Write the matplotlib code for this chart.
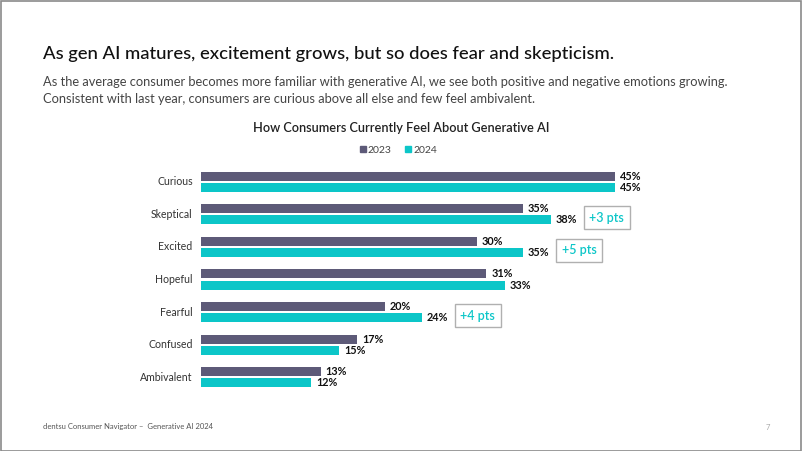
import matplotlib.pyplot as plt
from matplotlib.lines import Line2D
from matplotlib.patches import Rectangle

plt.rcParams['font.family'] = ['Lato', 'DejaVu Sans']

categories = ['Curious', 'Skeptical', 'Excited', 'Hopeful', 'Fearful', 'Confused', 'Ambivalent']
vals_2023 = [45, 35, 30, 31, 20, 17, 13]
vals_2024 = [45, 38, 35, 33, 24, 15, 12]
deltas = {1: '+3 pts', 2: '+5 pts', 4: '+4 pts'}

c2023 = '#5d5a78'
c2024 = '#0cc6c8'

W, H = 802, 451
fig = plt.figure(figsize=(W / 100, H / 100), dpi=100)
fig.patch.set_facecolor('white')

# page border
fig.patches.append(Rectangle((0.5 / W, 0.5 / H), 1 - 1.5 / W, 1 - 1.5 / H,
                             transform=fig.transFigure, fill=False,
                             edgecolor='#8a8a8a', linewidth=1.2))

def fx(px):
    return px / W

def fy(px):
    return 1 - px / H

# headings
fig.text(fx(43), fy(54), 'As gen AI matures, excitement grows, but so does fear and skepticism.',
         fontsize=13.3, color='#111111', va='center', fontweight='medium')
fig.text(fx(43), fy(82), 'As the average consumer becomes more familiar with generative AI, '
         'we see both positive and negative emotions growing.',
         fontsize=9.3, color='#444444', va='center')
fig.text(fx(43), fy(99), 'Consistent with last year, consumers are curious above all else and few feel ambivalent.',
         fontsize=9.3, color='#444444', va='center')
fig.text(fx(401), fy(128), 'How Consumers Currently Feel About Generative AI',
         fontsize=9.2, color='#222222', va='center', ha='center', fontweight='semibold')

# legend
handles = [Line2D([], [], marker='s', linestyle='none', color=c2023, markersize=4),
           Line2D([], [], marker='s', linestyle='none', color=c2024, markersize=4)]
fig.legend(handles, ['2023', '2024'], loc='center', bbox_to_anchor=(fx(398), fy(150)),
           ncol=2, frameon=False, fontsize=7.5, handletextpad=0.1, columnspacing=1.2,
           handlelength=0.8, labelcolor='#444444')

# chart axes: 9.2 px per percentage point, rows every 32.6 px
scale = 9.2
row = 32.6
x0 = 201
y_top = 181.7 - row / 2
ax = fig.add_axes([fx(x0), fy(y_top + row * 7), 60 * scale / W, row * 7 / H])
ax.set_xlim(0, 60)
ax.set_ylim(6.5, -0.5)
ax.axis('off')

ys = list(range(len(categories)))
off = 0.17
bh = 0.275
ax.barh([y - off for y in ys], vals_2023, height=bh, color=c2023)
ax.barh([y + off for y in ys], vals_2024, height=bh, color=c2024)

for y, cat, a, b in zip(ys, categories, vals_2023, vals_2024):
    ax.text(-0.9, y, cat, ha='right', va='center', fontsize=7.6, color='#333333')
    ax.text(a + 0.55, y - off, f'{a}%', ha='left', va='center', fontsize=7.8,
            color='#111111', fontweight='bold')
    ax.text(b + 0.55, y + off, f'{b}%', ha='left', va='center', fontsize=7.8,
            color='#111111', fontweight='bold')
    if y in deltas:
        ax.annotate(deltas[y], xy=(b, y + off), xytext=(56 * 0.72, 1.5),
                    textcoords='offset points', ha='center', va='center',
                    fontsize=9, color=c2024, fontweight='semibold',
                    bbox=dict(boxstyle='square,pad=0.45', facecolor='white',
                              edgecolor='#b0b0b0', linewidth=1))

# footer
fig.text(fx(43), fy(426), 'dentsu Consumer Navigator \u2013  Generative AI 2024',
         fontsize=5.5, color='#555555', va='center')
fig.text(fx(766), fy(428), '7', fontsize=5.5, color='#aaaaaa', va='center')

fig.savefig('out.png', dpi=100)
